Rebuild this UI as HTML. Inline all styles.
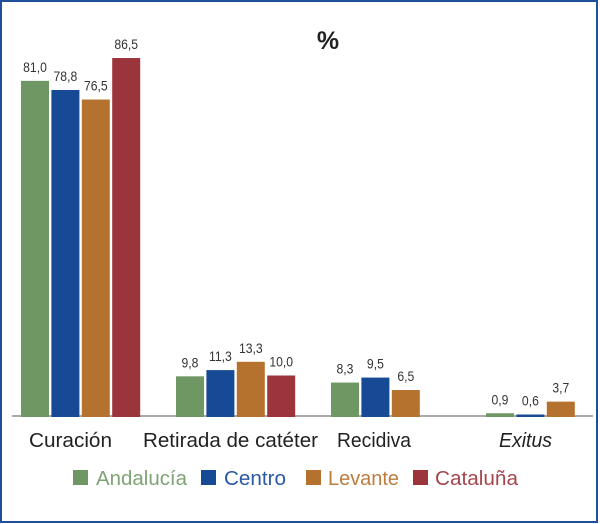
<!DOCTYPE html>
<html lang="es">
<head>
<meta charset="utf-8">
<title>Resultados por región</title>
<style>
  html, body { margin: 0; padding: 0; background: #fff; }
  svg { display: block; font-family: "Liberation Sans", sans-serif; }
</style>
</head>
<body>
<svg id="chart" width="600" height="524" viewBox="0 0 600 524" xmlns="http://www.w3.org/2000/svg">
  <rect x="1" y="1" width="596" height="521" fill="#fff" stroke="#1f4e9a" stroke-width="2"/>
  <text x="328" y="49" font-size="25" font-weight="bold" fill="#222" text-anchor="middle">%</text>
  <line x1="12" x2="593" y1="416" y2="416" stroke="#aaa" stroke-width="2"/>
  <g id="bars"></g>
  <g font-size="20" fill="#222">
    <text x="29" y="447" textLength="83" lengthAdjust="spacingAndGlyphs">Curación</text>
    <text x="143" y="447" textLength="175" lengthAdjust="spacingAndGlyphs">Retirada de catéter</text>
    <text x="337" y="447" textLength="74" lengthAdjust="spacingAndGlyphs">Recidiva</text>
    <text x="499" y="447" textLength="53" lengthAdjust="spacingAndGlyphs" font-style="italic">Exitus</text>
  </g>
  <g font-size="20">
    <g>
      <rect x="73" y="470" width="15" height="15" fill="#6f9764"/>
      <text x="96" y="485" fill="#7ea374" textLength="91" lengthAdjust="spacingAndGlyphs">Andalucía</text>
    </g>
    <g>
      <rect x="201" y="470" width="15" height="15" fill="#174a94"/>
      <text x="224" y="485" fill="#2a59a3" textLength="62" lengthAdjust="spacingAndGlyphs">Centro</text>
    </g>
    <g>
      <rect x="306" y="470" width="15" height="15" fill="#b5722f"/>
      <text x="328" y="485" fill="#bc7c3e" textLength="71" lengthAdjust="spacingAndGlyphs">Levante</text>
    </g>
    <g>
      <rect x="413" y="470" width="15" height="15" fill="#9c343c"/>
      <text x="435" y="485" fill="#a5454d" textLength="83" lengthAdjust="spacingAndGlyphs">Cataluña</text>
    </g>
  </g>
</svg>
<script>
const categories = ["Curación", "Retirada de catéter", "Recidiva", "Exitus"];
const seriesNames = ["Andalucía", "Centro", "Levante", "Cataluña"];
const andalucia = [81.0, 9.8, 8.3, 0.9];
const centro = [78.8, 11.3, 9.5, 0.6];
const levante = [76.5, 13.3, 6.5, 3.7];
const cataluna = [86.5, 10.0, null, null];

const seriesValues = [andalucia, centro, levante, cataluna];
const seriesColors = ["#6f9764", "#174a94", "#b5722f", "#9c343c"];

const baselineY = 417;
const pxPerUnit = 4.15;
const firstGroupX = 21;
const groupPitch = 155;
const barPitch = 30.4;
const barWidth = 28;

function xScale(groupIndex, seriesIndex) {
  return firstGroupX + groupPitch * groupIndex + barPitch * seriesIndex;
}
function yScale(value) {
  return baselineY - value * pxPerUnit;
}
function formatValue(value) {
  return value.toFixed(1).replace(".", ",");
}

const svgNS = "http://www.w3.org/2000/svg";
const barsGroup = document.getElementById("bars");

seriesValues.forEach(function (values, s) {
  values.forEach(function (value, c) {
    if (value === null) return;
    const x = xScale(c, s);
    const y = yScale(value);

    const bar = document.createElementNS(svgNS, "rect");
    
    
    bar.setAttribute("x", x);
    bar.setAttribute("y", y);
    bar.setAttribute("width", barWidth);
    bar.setAttribute("height", baselineY - y);
    bar.setAttribute("fill", seriesColors[s]);
    const barTitle = document.createElementNS(svgNS, "title");
    barTitle.textContent = seriesNames[s] + " – " + categories[c];
    bar.appendChild(barTitle);
    barsGroup.appendChild(bar);

    const label = document.createElementNS(svgNS, "text");
    
    
    label.setAttribute("x", x + barWidth / 2);
    label.setAttribute("y", y - 9);
    label.setAttribute("font-size", "14");
    label.setAttribute("fill", "#333");
    label.setAttribute("text-anchor", "middle");
    label.setAttribute("lengthAdjust", "spacingAndGlyphs");
    label.textContent = formatValue(value);
    barsGroup.appendChild(label);
    label.setAttribute("textLength", label.getComputedTextLength() * 0.87);
  });
});
</script>
</body>
</html>
